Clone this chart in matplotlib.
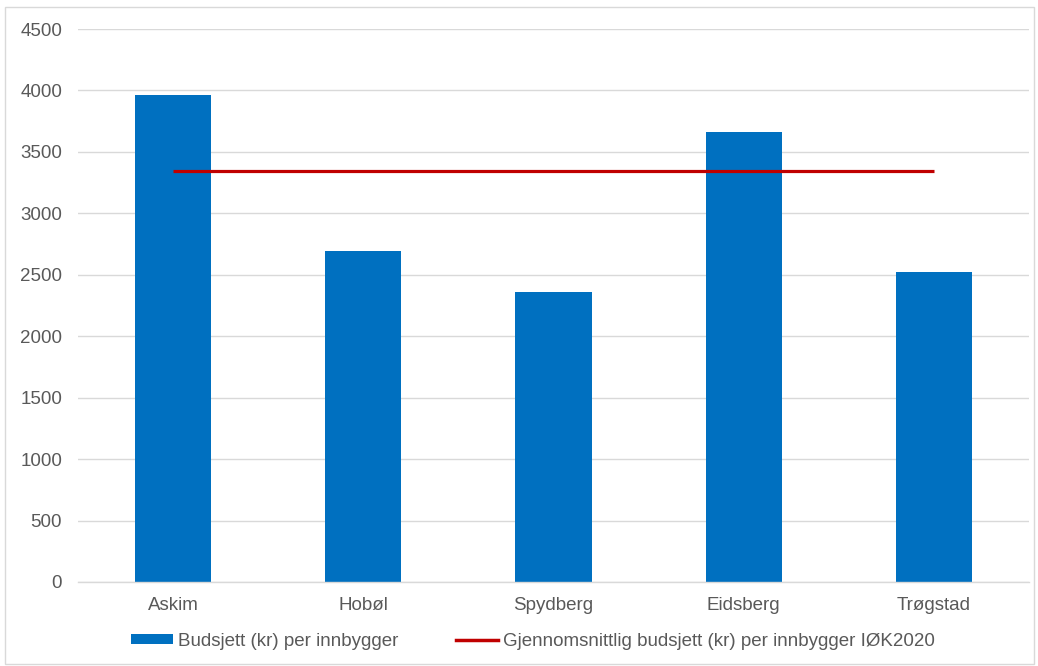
import matplotlib
matplotlib.use("Agg")
import matplotlib.pyplot as plt
from matplotlib.patches import Patch, Rectangle
from matplotlib.lines import Line2D

categories = ["Askim", "Hobøl", "Spydberg", "Eidsberg", "Trøgstad"]
budget = [3965, 2695, 2360, 3660, 2525]
average = [3345, 3345, 3345, 3345, 3345]
yticks = [0, 500, 1000, 1500, 2000, 2500, 3000, 3500, 4000, 4500]
bar_label = "Budsjett (kr) per innbygger"
line_label = "Gjennomsnittlig budsjett (kr) per innbygger IØK2020"

plt.rcParams['font.family'] = ['Liberation Sans', 'DejaVu Sans']
W, H = 1038, 666
fs = 13.5
fig = plt.figure(figsize=(W / 100, H / 100), dpi=100)
fig.patches.append(Rectangle((5 / W, 1 - 664 / H), 1029 / W, 657 / H, transform=fig.transFigure,
                             fill=False, edgecolor='#d9d9d9', linewidth=1.0))

ax = fig.add_axes([78 / W, 1 - 582 / H, (1029 - 78) / W, (582 - 29) / H])
x = list(range(len(categories)))
ax.bar(x, budget, width=0.4, color='#0070c0', zorder=2)
ax.plot(x, average, color='#c00000', linewidth=2.3, zorder=3, solid_capstyle='butt')

ax.set_xlim(-0.5, len(categories) - 0.5)
ax.set_ylim(0, 4500)
ax.set_yticks(yticks)
ax.set_xticks(x)
ax.set_xticklabels(categories)
ax.grid(axis='y', color='#d9d9d9', linewidth=1.0, zorder=0)
ax.set_axisbelow(True)
for s in ['top', 'right', 'left']:
    ax.spines[s].set_visible(False)
ax.spines['bottom'].set_color('#d9d9d9')
ax.spines['bottom'].set_linewidth(1.0)
ax.tick_params(axis='both', length=0, labelsize=fs, colors='#595959')
ax.tick_params(axis='x', pad=11)
ax.tick_params(axis='y', pad=11.5)

handles = [Patch(facecolor='#0070c0', edgecolor='none'),
           Line2D([0], [0], color='#c00000', linewidth=2.5)]
fig.legend(handles, [bar_label, line_label], loc='center', bbox_to_anchor=(533 / W, 1 - 641 / H),
           ncol=2, frameon=False, fontsize=fs, handlelength=2.2, handleheight=0.45,
           handletextpad=0.28, columnspacing=3.1, labelcolor='#595959')

fig.savefig("out.png", dpi=100)
